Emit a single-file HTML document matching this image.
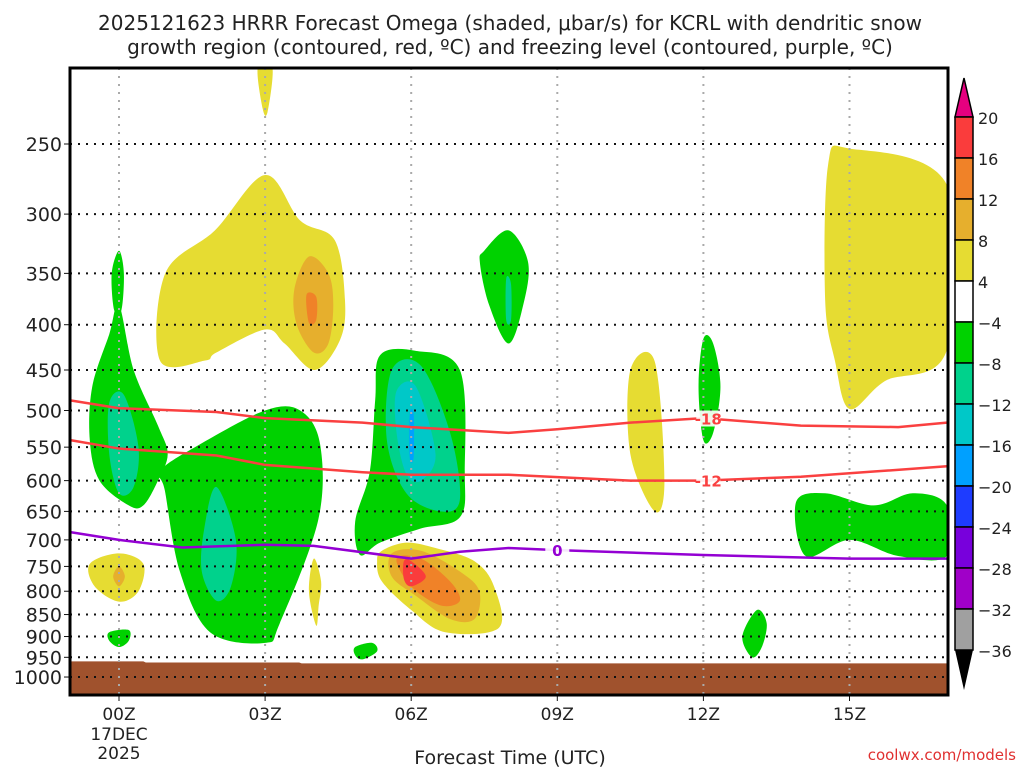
<!DOCTYPE html>
<html><head><meta charset="utf-8"><style>
body{margin:0;background:#fff;}
svg{display:block;font-family:"DejaVu Sans","Liberation Sans",sans-serif;}
</style></head><body>
<svg id="c" width="1024" height="768">
<text x="510" y="30" font-size="20" text-anchor="middle" fill="#222">2025121623 HRRR Forecast Omega (shaded, μbar/s) for KCRL with dendritic snow</text>
<text x="510" y="54" font-size="20" text-anchor="middle" fill="#222">growth region (contoured, red, ºC) and freezing level (contoured, purple, ºC)</text>
<g id="plot"></g>
<text x="510" y="764" font-size="19" text-anchor="middle" fill="#222">Forecast Time (UTC)</text>
<text x="1016" y="760" font-size="15" text-anchor="end" fill="#e03030">coolwx.com/models</text>
</svg>
<script>
const yTicks=[250,300,350,400,450,500,550,600,650,700,750,800,850,900,950,1000];
const xTickHours=[0,3,6,9,12,15];
const xTickLabels=["00Z","03Z","06Z","09Z","12Z","15Z"];
const cbLevels=[20,16,12,8,4,-4,-8,-12,-16,-20,-24,-28,-32,-36];
const cbColors=["#fa3c3c","#f08228","#e6af2d","#e6dc32","#ffffff","#00d200","#00d28c","#00c8c8","#00a0ff","#1e3cff","#7800dc","#a000c8","#a0a0a0"];
const dgzUpper=[[-1,487],[0,497],[2,502],[3,510],[5,516],[6,522],[8,530],[9,525],[10.5,516],[12,510],[14,520],[16,522],[17,516]];
const dgzLower=[[-1,540],[0,552],[2,562],[3,576],[5,587],[6,591],[8,591],[10.5,600],[12,600],[14,594],[15.5,586],[17,578]];
const freezing=[[-1,686],[0,700],[1.3,714],[3,709],[4,711],[6,735],[7,722],[8,715],[9,719],[12,728],[15,735],[17,735]];
const terrain=[[-1,960],[0.5,960],[0.55,963],[3.7,963],[3.75,965],[17,965]];
const cY="#e6dc32",cO1="#e6af2d",cO2="#f08228",cR="#fa3c3c",cG="#00d200",cT="#00d28c",cC="#00c8c8",cB="#00a0ff";
const blobs=[
[cY,[[2.85,205],[3.15,205],[3.05,230],[2.95,228]]],
[cY,[[0.84,439],[0.95,350],[1.97,313],[3.0,271],[3.72,305],[4.43,321],[4.64,375],[4.54,416],[4.02,450],[3.4,420],[3.0,405],[2.0,430],[1.77,439]]],
[cO1,[[3.6,365],[3.9,335],[4.3,350],[4.4,380],[4.3,420],[4.0,430],[3.65,400]]],
[cO2,[[3.85,370],[4.05,372],[4.05,395],[3.9,398]]],
[cG,[[0.0,330],[0.1,350],[0.05,385],[-0.1,385],[-0.15,350]]],
[cG,[[-0.55,470],[-0.2,410],[0.0,380],[0.3,450],[0.8,520],[1.0,560],[0.8,600],[0.5,640],[0.2,640],[-0.4,600],[-0.6,540]]],
[cT,[[-0.2,490],[0.1,480],[0.4,550],[0.3,610],[0.0,620],[-0.2,560]]],
[cG,[[0.84,585],[1.66,546],[3.0,500],[3.72,500],[4.13,546],[4.09,665],[3.3,870],[3.0,915],[1.87,890],[1.25,760],[0.94,615]]],
[cT,[[2.0,610],[2.4,700],[2.3,790],[2.0,820],[1.7,760],[1.75,680]]],
[cY,[[-0.6,745],[0.0,725],[0.5,745],[0.4,800],[0.0,822],[-0.5,790]]],
[cO1,[[0,750],[0.12,770],[0,790],[-0.12,770]]],
[cG,[[-0.2,890],[0.2,885],[0.2,910],[0.0,925],[-0.2,910]]],
[cY,[[4.0,735],[4.15,780],[4.1,830],[4.05,875],[3.9,800]]],
[cG,[[5.36,433],[6.08,428],[7.0,450],[7.1,586],[7.0,660],[6.18,680],[5.36,705],[4.95,728],[4.85,667],[5.15,586],[5.26,487]]],
[cT,[[5.6,450],[6.2,445],[6.8,530],[7.0,630],[6.6,650],[5.9,620],[5.5,540]]],
[cC,[[5.7,475],[6.1,470],[6.5,560],[6.2,600],[5.9,590],[5.7,530]]],
[cB,[[5.97,505],[6.05,505],[6.05,565],[5.97,565]]],
[cY,[[5.4,720],[5.9,705],[6.5,715],[7.3,740],[7.7,790],[7.8,880],[6.7,890],[6.0,840],[5.4,780],[5.3,740]]],
[cO1,[[5.6,725],[6.2,720],[7.0,760],[7.4,800],[7.3,860],[6.8,860],[6.1,810],[5.6,770]]],
[cO2,[[5.7,735],[6.2,735],[6.8,780],[7.0,820],[6.6,830],[6.0,790]]],
[cR,[[5.85,740],[6.0,740],[6.3,770],[6.0,790],[5.85,775]]],
[cG,[[7.5,330],[8.0,313],[8.4,340],[8.3,380],[8.0,420],[7.6,380],[7.41,340]]],
[cT,[[7.95,355],[8.05,360],[8.05,395],[7.95,395]]],
[cY,[[10.5,450],[11.0,440],[11.2,600],[11.0,650],[10.5,560]]],
[cG,[[12.0,415],[12.2,420],[12.35,470],[12.2,530],[12.0,540],[11.9,470]]],
[cG,[[13.1,840],[13.3,870],[13.2,925],[13.0,950],[12.8,900]]],
[cY,[[15.0,253],[17.0,278],[17.0,427],[15.73,463],[15.0,498],[14.7,439],[14.5,375],[14.56,264]]],
[cG,[[13.9,635],[14.5,620],[15.5,640],[16.3,620],[17.0,640],[17.0,730],[16.0,730],[15.0,700],[14.1,730]]],
[cG,[[4.85,925],[5.2,915],[5.3,935],[5.0,955],[4.85,945]]]
];
(function(){
const L=70,Rt=948,Tp=68,Bt=695;
const xS=h=>119+(h)*48.7;
const yS=p=>144+384.5*Math.log(p/250);
const NS="http://www.w3.org/2000/svg";
const g=document.getElementById('plot');
function mk(t,a,parent){const e=document.createElementNS(NS,t);for(const k in a)e.setAttribute(k,a[k]);(parent||g).appendChild(e);return e;}
function smooth(pts){
 const n=pts.length;let d='M'+pts[0][0]+','+pts[0][1];
 for(let i=0;i<n;i++){
  const p0=pts[(i-1+n)%n],p1=pts[i],p2=pts[(i+1)%n],p3=pts[(i+2)%n];
  const c1=[p1[0]+(p2[0]-p0[0])/6,p1[1]+(p2[1]-p0[1])/6];
  const c2=[p2[0]-(p3[0]-p1[0])/6,p2[1]-(p3[1]-p1[1])/6];
  d+=' C'+c1[0]+','+c1[1]+' '+c2[0]+','+c2[1]+' '+p2[0]+','+p2[1];
 }
 return d+'Z';
}
const clip=mk('clipPath',{id:'cl'});mk('rect',{x:L,y:Tp,width:Rt-L,height:Bt-Tp},clip);
const inner=mk('g',{'clip-path':'url(#cl)'});
blobs.forEach((b,i)=>{
 const pts=b[1].map(q=>[xS(q[0]),yS(q[1])]);
 const e=mk('path',{d:smooth(pts),fill:b[0]},inner);
 
 
});
const tp=terrain.map(q=>xS(q[0])+','+yS(q[1])).join(' ')+' '+xS(17.2)+','+Bt+' '+xS(-1.2)+','+Bt;
const te=mk('polygon',{points:tp,fill:'#a0522d'},inner);


yTicks.forEach(p=>{
 const y=yS(p);
 const ln=mk('line',{x1:L,x2:Rt,y1:y,y2:y,stroke:'#111','stroke-dasharray':'2 6','stroke-width':2},inner);
 
 
 mk('line',{x1:L-6,x2:L,y1:y,y2:y,stroke:'#111'});
 const t=mk('text',{x:L-8,y:y+7,'font-size':19,'text-anchor':'end',fill:'#222'});t.textContent=p;
 
 
});
xTickHours.forEach((h,i)=>{
 const x=xS(h);
 const ln=mk('line',{x1:x,x2:x,y1:Tp,y2:Bt,stroke:'#aaa','stroke-dasharray':'2 6','stroke-width':2},inner);
 
 
 mk('line',{x1:x,x2:x,y1:Bt,y2:Bt+6,stroke:'#111'});
 const t=mk('text',{x:x,y:Bt+25,'font-size':17,'text-anchor':'middle',fill:'#222'});t.textContent=xTickLabels[i];
 
 
});
[["17DEC",740],["2025",759]].forEach(d=>{const t=mk('text',{x:xS(0),y:d[1],'font-size':17,'text-anchor':'middle',fill:'#222'});t.textContent=d[0];
 
 });
function line(data,col,name,lab,lh){
 const e=mk('polyline',{points:data.map(q=>xS(q[0])+','+yS(q[1])).join(' '),fill:'none',stroke:col,'stroke-width':2.5},inner);
 
 
 let p=data[0][1];for(let i=1;i<data.length;i++){if(data[i][0]>=lh){const a=data[i-1],b=data[i];p=a[1]+(b[1]-a[1])*(lh-a[0])/(b[0]-a[0]);break;}}
 mk('rect',{x:xS(lh)-12,y:yS(p)-8,width:24,height:16,fill:'#fff',opacity:0.9},inner);
 const t=mk('text',{x:xS(lh),y:yS(p)+6,'font-size':15,'font-weight':'bold','text-anchor':'middle',fill:col},inner);t.textContent=lab;
 
 
}
line(dgzUpper,'#fa4040','dgz-contour-minus18','-18',12.1);
line(dgzLower,'#fa4040','dgz-contour-minus12','-12',12.1);
line(freezing,'#9400d3','freezing-level-contour','0',9);
const fr=mk('rect',{x:L,y:Tp,width:Rt-L,height:Bt-Tp,fill:'none',stroke:'#000','stroke-width':3});


const cx=955,cw=18,cbTop=117,seg=(650-117)/13;
const cb=mk('g',{});


mk('polygon',{points:`${cx},${cbTop} ${cx+cw},${cbTop} ${cx+cw/2},78`,fill:'#e6007f',stroke:'#000','stroke-width':1.5},cb);
cbColors.forEach((c,i)=>{const r=mk('rect',{x:cx,y:cbTop+i*seg,width:cw,height:seg,fill:c,stroke:'#000','stroke-width':1.5},cb);
 
 });
mk('polygon',{points:`${cx},650 ${cx+cw},650 ${cx+cw/2},690`,fill:'#000'},cb);
cbLevels.forEach((v,i)=>{const t=mk('text',{x:978,y:cbTop+i*seg+7,'font-size':16,fill:'#222'},cb);t.textContent=v>0?v:'\u2212'+(-v);
 
 });
})();
</script>
</body></html>
